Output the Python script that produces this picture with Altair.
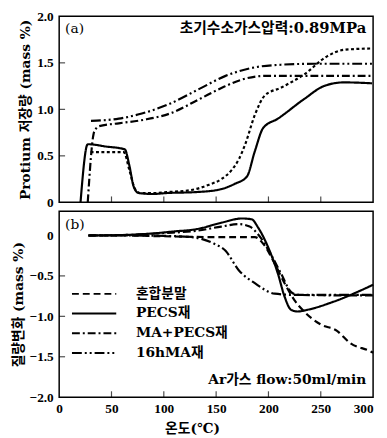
import altair as alt
import pandas as pd

series_names = ["혼합분말", "PECS재", "MA+PECS재", "16hMA재"]

# ---- panel (a): protium storage (mass %) vs temperature (°C)
a_mix_t = [30, 45, 61.8, 67, 72.7, 77.4, 90, 102.5, 125, 143.3, 155, 165, 172, 177.8, 187, 196.6, 212.3, 234, 256, 272, 299]
a_mix_v = [0.54, 0.54, 0.54, 0.35, 0.14, 0.10, 0.10, 0.11, 0.13, 0.19, 0.25, 0.35, 0.47, 0.625, 0.94, 1.15, 1.235, 1.375, 1.57, 1.64, 1.655]
a_pecs_t = [20.4, 27.3, 45, 62.7, 67, 71.2, 75.9, 90, 102.5, 130, 152.7, 168, 179.3, 187, 195, 209, 234, 253, 272, 299]
a_pecs_v = [0, 0.625, 0.60, 0.57, 0.40, 0.17, 0.10, 0.09, 0.10, 0.11, 0.136, 0.20, 0.275, 0.55, 0.80, 0.90, 1.11, 1.25, 1.29, 1.28]
a_mapecs_t = [27.3, 33.5, 38.3, 57, 82, 107, 134, 156, 174.6, 196.6, 228, 299]
a_mapecs_v = [0, 0.76, 0.82, 0.85, 0.89, 0.96, 1.11, 1.235, 1.32, 1.36, 1.36, 1.36]
a_ma16_t = [30.4, 57, 79, 105.6, 134, 159, 184, 212, 243.6, 299]
a_ma16_v = [0.876, 0.90, 0.955, 1.06, 1.22, 1.36, 1.445, 1.48, 1.49, 1.49]

# ---- panel (b): mass change (mass %) vs temperature (°C)
b_mix_t = [28, 60, 100, 150, 187, 196, 206, 215.4, 224.8, 234, 250, 265.5, 278, 297, 300]
b_mix_v = [0, 0, -0.01, -0.02, -0.02, -0.12, -0.35, -0.59, -0.80, -0.94, -1.10, -1.18, -1.33, -1.43, -1.45]
b_pecs_t = [28, 60, 88.4, 110, 130.7, 155.8, 174.6, 184, 190, 199.7, 209, 215.4, 221.7, 228, 237, 262, 300]
b_pecs_v = [0, 0.005, 0.024, 0.05, 0.077, 0.16, 0.21, 0.2, 0.1, -0.146, -0.47, -0.756, -0.92, -0.94, -0.92, -0.82, -0.61]
b_mapecs_t = [28, 60, 100, 130.7, 155, 171.6, 182, 190, 203, 212, 221.7, 228, 260, 300]
b_mapecs_v = [0, 0.005, 0.03, 0.057, 0.11, 0.14, 0.11, 0.016, -0.25, -0.47, -0.70, -0.735, -0.74, -0.74]
b_ma16_t = [28, 60, 100, 126, 147.7, 159, 171.6, 187, 206, 225, 260, 300]
b_ma16_v = [0, 0.0, -0.005, -0.02, -0.1, -0.19, -0.43, -0.59, -0.72, -0.735, -0.735, -0.735]

x_ticks = [0, 50, 100, 150, 200, 250, 300]
x_inner_ticks = [50, 100, 150, 200, 250]
ya_ticks = [0, 0.5, 1.0, 1.5, 2.0]
ya_inner = [0.5, 1.0, 1.5]
yb_ticks = [0, -0.5, -1.0, -1.5, -2.0]
yb_inner = [-0.5, -1.0, -1.5]


def frame(ts, vs, name):
    return pd.DataFrame({"t": ts, "v": vs, "s": name})


dfa = pd.concat([
    frame(a_mix_t, a_mix_v, series_names[0]),
    frame(a_pecs_t, a_pecs_v, series_names[1]),
    frame(a_mapecs_t, a_mapecs_v, series_names[2]),
    frame(a_ma16_t, a_ma16_v, series_names[3]),
])
dfb = pd.concat([
    frame(b_mix_t, b_mix_v, series_names[0]),
    frame(b_pecs_t, b_pecs_v, series_names[1]),
    frame(b_mapecs_t, b_mapecs_v, series_names[2]),
    frame(b_ma16_t, b_ma16_v, series_names[3]),
])

FONT = "DejaVu Serif, Noto Sans CJK KR"
NUMFONT = "Liberation Serif"
W, HA, HB = 319, 189, 189

x_scale = alt.Scale(domain=[0, 300], nice=False)
ya_scale = alt.Scale(domain=[0, 2.0], nice=False)
yb_scale = alt.Scale(domain=[-2.0, 0.3], nice=False)

dash_a = [[3, 2.5], [1, 0], [8, 3, 2, 3], [10, 3, 2, 3, 2, 3]]
dash_b = [[7, 4], [1, 0], [8, 3, 2, 3], [10, 3, 2, 3, 2, 3]]

x_axis_a = alt.Axis(values=x_ticks, labels=False, ticks=False, domain=False, grid=False, title=None)
x_axis_b = alt.Axis(values=x_ticks, ticks=False, domain=False, grid=False, format="d",
                    labelAlign={"condition": {"test": "datum.value == 300", "value": "right"}, "value": "center"},
                    labelPadding=5, title="온도(℃)", titlePadding=6, titleX=135)
y_axis_a = alt.Axis(values=ya_ticks, ticks=False, domain=False, grid=False,
                    labelExpr="datum.value == 0 ? '0' : format(datum.value, '.1f')",
                    labelPadding=6, title="Protium 저장량 (mass %)", titlePadding=4)
y_axis_b = alt.Axis(values=yb_ticks, ticks=False, domain=False, grid=False,
                    labelExpr="datum.value == 0 ? '0' : format(datum.value, '.1f')",
                    labelPadding=6, title="질량변화 (mass %)", titlePadding=4)


def text_layer(label, x, y, size, align, weight="bold"):
    return alt.Chart(pd.DataFrame({"label": [label]})).mark_text(
        font=FONT, fontSize=size, fontWeight=weight, align=align, baseline="middle", color="black"
    ).encode(text="label:N", x=alt.value(x), y=alt.value(y))


def xtick_layer(h, axis):
    return alt.Chart(pd.DataFrame({"t": x_inner_ticks})).mark_tick(
        color="black", size=6, thickness=1.2
    ).encode(x=alt.X("t:Q", scale=x_scale, axis=axis), y=alt.value(h - 3))


def ytick_layer(vals, sc, axis):
    return alt.Chart(pd.DataFrame({"v": vals})).mark_tick(
        color="black", size=6, thickness=1.2
    ).encode(y=alt.Y("v:Q", scale=sc, axis=axis), x=alt.value(3))


lines_a = alt.Chart(dfa).mark_line(color="black", strokeWidth=2.2, interpolate="monotone").encode(
    x=alt.X("t:Q", scale=x_scale, axis=x_axis_a),
    y=alt.Y("v:Q", scale=ya_scale, axis=y_axis_a),
    strokeDash=alt.StrokeDash("s:N", scale=alt.Scale(domain=series_names, range=dash_a), legend=None),
)

panel_a = alt.layer(
    lines_a,
    xtick_layer(HA, x_axis_a),
    ytick_layer(ya_inner, ya_scale, y_axis_a),
    text_layer("(a)", 6, 13, 14, "left", "normal"),
    text_layer("초기수소가스압력:0.89MPa", 312, 12, 15, "right"),
).properties(width=W, height=HA)

lines_b = alt.Chart(dfb).mark_line(color="black", strokeWidth=2.2, interpolate="monotone").encode(
    x=alt.X("t:Q", scale=x_scale, axis=x_axis_b),
    y=alt.Y("v:Q", scale=yb_scale, axis=y_axis_b),
    strokeDash=alt.StrokeDash(
        "s:N", scale=alt.Scale(domain=series_names, range=dash_b),
        legend=alt.Legend(title=None, orient="none", legendX=12, legendY=74, symbolType="stroke",
                          symbolSize=2025, symbolStrokeWidth=2, symbolStrokeColor="black",
                          labelFont=FONT, labelFontSize=14, labelFontWeight="bold", labelColor="black",
                          clipHeight=20, rowPadding=0, labelOffset=19, padding=0)),
)

panel_b = alt.layer(
    lines_b,
    xtick_layer(HB, x_axis_b),
    ytick_layer(yb_inner, yb_scale, y_axis_b),
    text_layer("(b)", 6, 14, 14, "left", "normal"),
    text_layer("Ar가스 flow:50ml/min", 312, 172, 14, "right"),
).properties(width=W, height=HB)

chart = alt.vconcat(panel_a, panel_b, spacing=0).resolve_scale(strokeDash="independent").configure_view(
    stroke="black", strokeWidth=1.5
).configure_axis(
    labelFont=NUMFONT, labelFontSize=13.5, labelFontWeight="bold", labelColor="black",
    titleFont=FONT, titleFontSize=14, titleFontWeight="bold", titleColor="black"
).properties(padding={"left": 2, "top": -3, "right": 0, "bottom": 0})

chart.save("out.html", embed_options={"renderer": "svg", "actions": False})
